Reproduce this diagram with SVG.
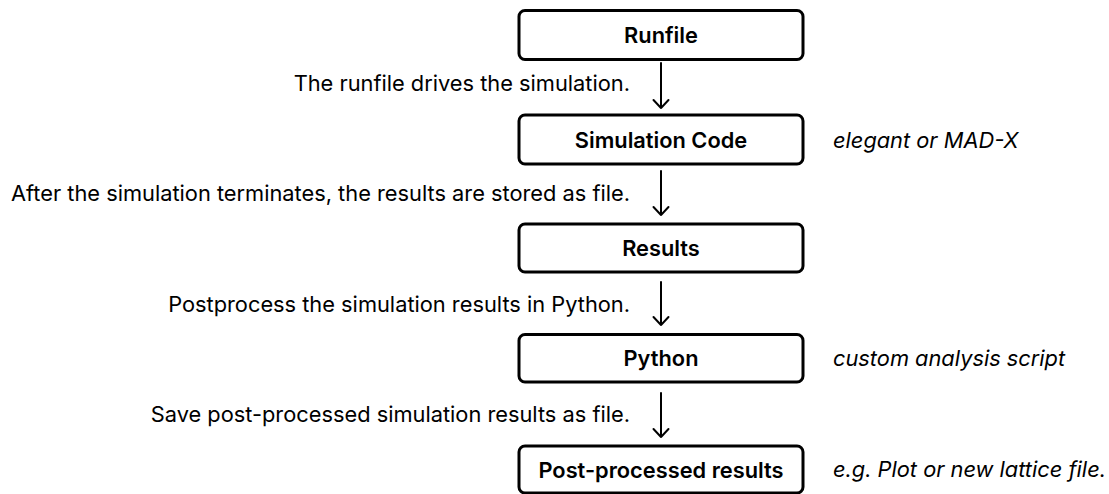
<svg xmlns="http://www.w3.org/2000/svg" width="1109" height="494" viewBox="0 0 1109 494">
<defs>
<style>
.box{fill:#fff;stroke:#000;stroke-width:3}
.lbl{font-family:Inter,"Liberation Sans",sans-serif;font-size:21.8px;font-weight:600;fill:#000;text-anchor:middle;dominant-baseline:central}
.desc{font-family:Inter,"Liberation Sans",sans-serif;font-size:21.8px;fill:#000;text-anchor:end;dominant-baseline:central}
.note{font-family:Inter,"Liberation Sans",sans-serif;font-size:21.8px;font-style:italic;fill:#000;dominant-baseline:central}
.conn{fill:none;stroke:#000;stroke-width:2;stroke-linecap:round;stroke-linejoin:round}
</style>
</defs>
<rect width="1109" height="494" fill="#fff"/>
<g id="runfile"><rect class="box" x="519" y="10.5" width="284" height="49" rx="6"/><text class="lbl" x="661" y="35">Runfile</text></g>
<g id="simcode"><rect class="box" x="519" y="115" width="284" height="49" rx="6"/><text class="lbl" x="661" y="139.5">Simulation Code</text><text class="note" x="833" y="140">elegant or MAD-X</text></g>
<g id="results"><rect class="box" x="519" y="224" width="284" height="48" rx="6"/><text class="lbl" x="661" y="248">Results</text></g>
<g id="python"><rect class="box" x="519" y="334.5" width="284" height="47.5" rx="6"/><text class="lbl" x="661" y="358">Python</text><text class="note" x="833" y="358">custom analysis script</text></g>
<g id="post"><rect class="box" x="519" y="446" width="284" height="47" rx="6"/><text class="lbl" x="661" y="469.5">Post-processed results</text><text class="note" x="833" y="469">e.g. Plot or new lattice file.</text></g>
<g id="connectors">
<path class="conn" d="M661 63V108M653.5 100L661 108L668.5 100"/>
<path class="conn" d="M661 171V215M653.5 207L661 215L668.5 207"/>
<path class="conn" d="M661 282V325M653.5 317L661 325L668.5 317"/>
<path class="conn" d="M661 393V437M653.5 429L661 437L668.5 429"/>
<text class="desc" x="630" y="83">The runfile drives the simulation.</text>
<text class="desc" x="630" y="193">After the simulation terminates, the results are stored as file.</text>
<text class="desc" x="630" y="304">Postprocess the simulation results in Python.</text>
<text class="desc" x="630" y="414">Save post-processed simulation results as file.</text>
</g>
</svg>
